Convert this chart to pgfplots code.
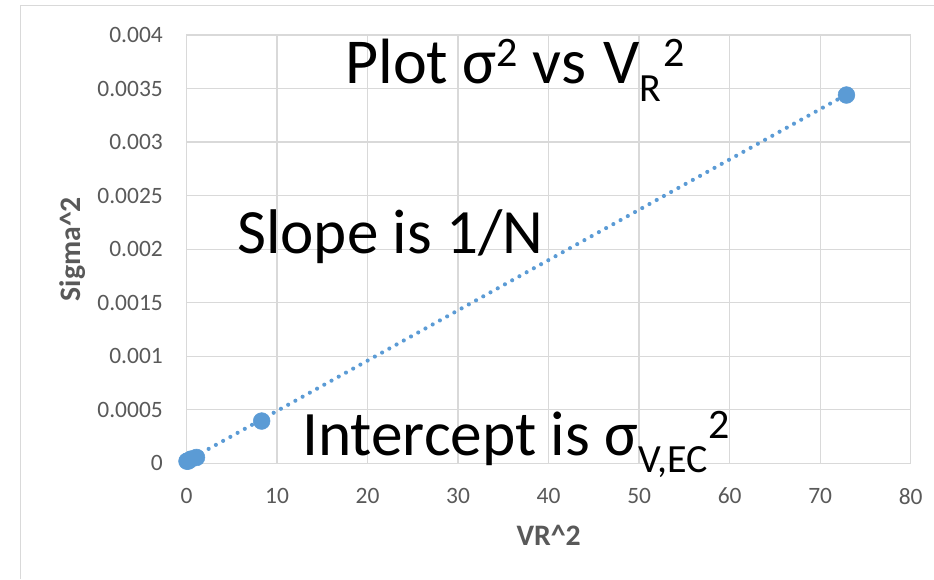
\documentclass[border=0pt]{standalone}
\usepackage{pgfplots}
\pgfplotsset{compat=1.18}
\usepackage{fontspec}
\setmainfont{Carlito}
\definecolor{xlblue}{HTML}{5B9BD5}
\definecolor{gridgray}{HTML}{D9D9D9}
\definecolor{txtgray}{HTML}{595959}
\begin{document}
\begin{tikzpicture}
\path[use as bounding box] (-139.9pt,-86.8pt) rectangle (560.6pt,347.5pt);
\draw[gridgray, line width=1pt] (-124.4pt,-86.8pt) -- (-124.4pt,343.2pt) -- (560.6pt,343.2pt);
\begin{axis}[
  at={(0pt,0pt)}, anchor=south west,
  scale only axis, width=543.15pt, height=321.2pt,
  xmin=0, xmax=80, ymin=0, ymax=0.004,
  xtick={0,10,20,30,40,50,60,70,80},
  ytick={0,0.0005,0.001,0.0015,0.002,0.0025,0.003,0.0035,0.004},
  yticklabels={0,0.0005,0.001,0.0015,0.002,0.0025,0.003,0.0035,0.004},
  scaled y ticks=false,
  /pgf/number format/assume math mode=true,
  grid=major,
  major grid style={gridgray, line width=1pt},
  axis line style={gridgray, line width=1pt},
  major tick length=0pt,
  tick style={draw=none},
  ticklabel style={font=\fontsize{17.6}{20}\selectfont, text=txtgray, inner sep=0pt},
  yticklabel shift=17.6pt,
  xticklabel shift=18.3pt,
  xlabel={VR\^{}2},
  ylabel={Sigma\^{}2},
  label style={font=\bfseries\fontsize{22.3}{25}\selectfont, text=txtgray, inner sep=0pt},
  xlabel style={at={(rel axis cs:0.5,0)}, anchor=center, yshift=-53.8pt},
  ylabel style={at={(rel axis cs:0,0.5)}, anchor=center, rotate=0, xshift=0pt, yshift=85.1pt},
  clip=false,
]
% dotted linear trendline
\addplot[xlblue, line width=3.1pt, line cap=round, dash pattern=on 0pt off 6.2pt] coordinates {(0.05,0.0000223) (72.9,0.0034444)};
\addplot[only marks, mark=*, mark size=6.3pt, mark options={fill=xlblue, draw=xlblue}] coordinates {
(0.05,0.00002) (0.2,0.000022) (0.5,0.00004) (1.1,0.000055) (8.3,0.000395) (72.9,0.00344)};
\end{axis}
\node[anchor=base west, inner sep=0pt] at (118.9pt,284.5pt) {\fontsize{48}{52}\selectfont Plot σ\raisebox{13pt}{\fontsize{31.5}{34}\selectfont 2} vs\hspace{2pt} V\raisebox{-13.3pt}{\fontsize{30}{32}\selectfont R}\hspace{1.5pt}\raisebox{13pt}{\fontsize{31.5}{34}\selectfont 2}};
\node[anchor=base west, inner sep=0pt] at (37.9pt,157.7pt) {\fontsize{47.3}{52}\selectfont Slope is 1/N};
\node[anchor=base west, inner sep=0pt] at (86.6pt,6.2pt) {\fontsize{47.5}{52}\selectfont Intercept is σ\raisebox{-12.75pt}{\fontsize{30}{32}\selectfont V,EC}\raisebox{12.75pt}{\fontsize{31.5}{34}\selectfont 2}};
\end{tikzpicture}
\end{document}
